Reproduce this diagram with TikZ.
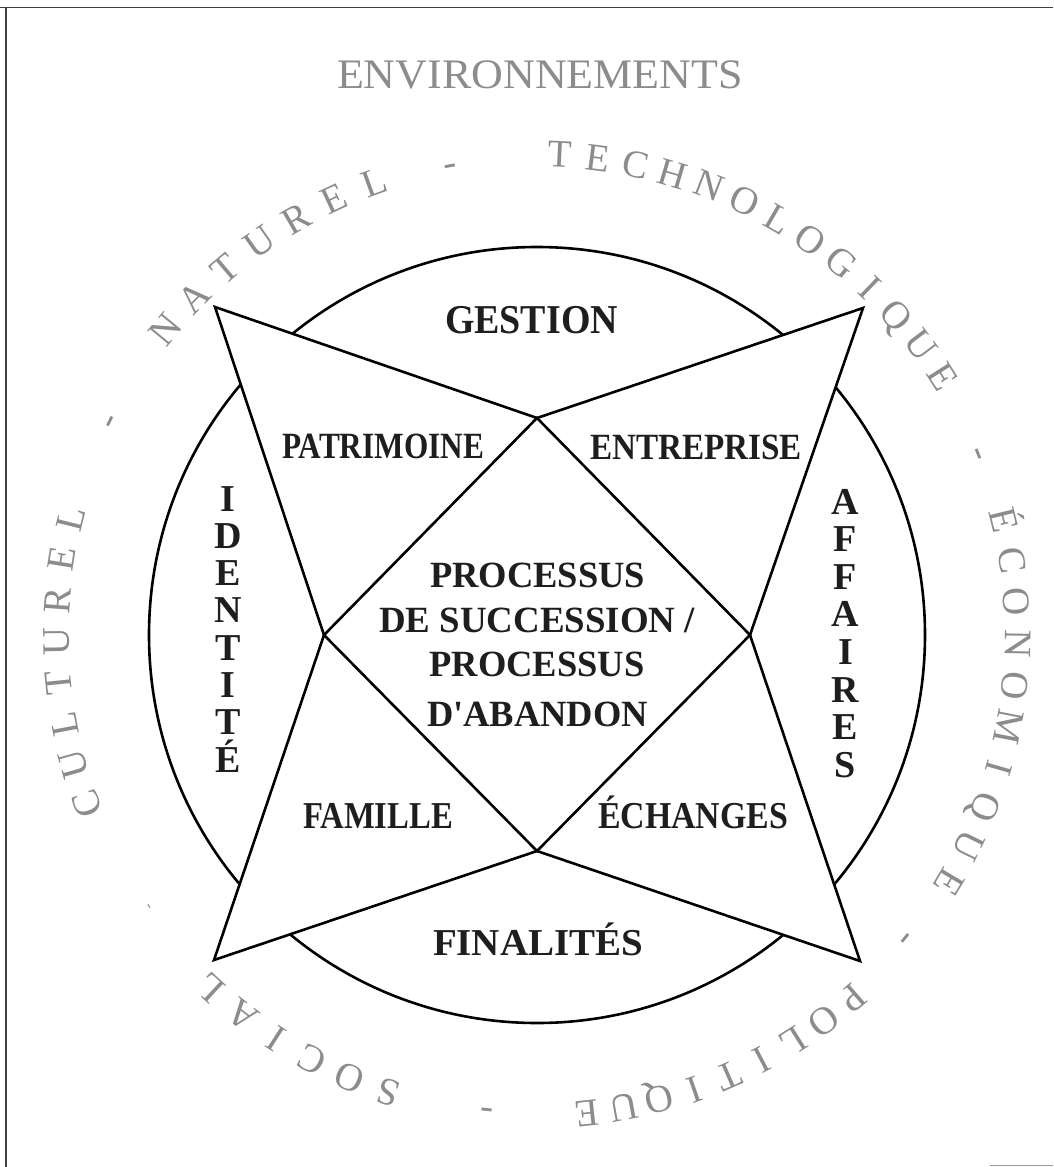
\documentclass[tikz,border=0pt]{standalone}
\usepackage{fontspec}
\setmainfont{Liberation Serif}[Ligatures=TeXOff]
\usepackage{graphicx}
\definecolor{ringgray}{RGB}{140,140,140}
\definecolor{ink}{RGB}{30,30,30}
\newsavebox\labbox
\newcommand\fitw[2]{\sbox\labbox{#2}\pgfmathsetmacro\labfac{#1/\the\wd\labbox}\scalebox{\labfac}[1]{\usebox\labbox}}
\begin{document}
\begin{tikzpicture}[x=1pt,y=1pt,
  lab/.style={inner sep=0pt, anchor=base, text=ink, font=\bfseries\fontsize{37}{37}\selectfont},
  biglab/.style={lab, font=\bfseries\fontsize{38}{38}\selectfont},
  ring/.style={inner sep=0pt, anchor=base, text=ringgray, font=\fontsize{39}{39}\selectfont},
  edge/.style={line width=2.6pt, line join=miter, draw=black}]
\useasboundingbox (0,0) rectangle (1053,-1167);
\fill[white] (0,0) rectangle (1053,-1167);
% frame
\coordinate (f1) at (0,-7.5);
\coordinate (f2) at (1053,-7.5);
\coordinate (f3) at (6,-7.5);
\coordinate (f4) at (6,-1167);
\coordinate (f5) at (990,-1165.5);
\coordinate (f6) at (1053,-1165.5);
\draw[line width=1.8pt, black!75] (f1) -- (f2);
\draw[line width=1.8pt, black!75] (f3) -- (f4);
\draw[line width=1.5pt, black!40] (f5) -- (f6);
% geometry
\coordinate (C) at (537,-635);
\coordinate (ul) at (215,-307);
\coordinate (t) at (537,-418);
\coordinate (ur) at (863,-308);
\coordinate (r) at (750,-635);
\coordinate (lr) at (860,-961);
\coordinate (b) at (537,-851);
\coordinate (ll) at (214,-960);
\coordinate (l) at (324,-635);
\draw[edge] (C) circle (388);
\draw[edge, fill=white] (ul) -- (t) -- (ur) -- (r) -- (lr) -- (b) -- (ll) -- (l) -- cycle;
\draw[edge] (t) -- (l) -- (b) -- (r) -- cycle;
% labels
\node[lab, font=\bfseries\fontsize{41}{41}\selectfont] (gestion) at (531.5,-333) {\fitw{173}{GESTION}};
\node[lab] (patrimoine) at (383,-458) {\fitw{202}{PATRIMOINE}};
\node[lab] (entreprise) at (696,-459) {\fitw{212}{ENTREPRISE}};
\node[lab] (proc1) at (537.5,-587) {\fitw{215}{PROCESSUS}};
\node[lab] (proc2) at (537,-632) {\fitw{316}{DE SUCCESSION /}};
\node[lab] (proc3) at (537,-676) {\fitw{215}{PROCESSUS}};
\node[lab] (proc4) at (537.5,-726) {\fitw{221}{D'ABANDON}};
\node[biglab] (famille) at (378,-828) {\fitw{150}{FAMILLE}};
\node[biglab] (echanges) at (693,-828) {\fitw{190}{ÉCHANGES}};
\node[biglab] (finalites) at (538,-955) {\fitw{210}{FINALITÉS}};
\foreach \ch [count=\i from 0] in {I,D,E,N,T,I,T,É}
  \node[biglab] (id\i) at (228,{-511-37.3*\i}) {\ch};
\foreach \ch [count=\i from 0] in {A,F,F,A,I,R,E,S}
  \node[biglab] (af\i) at (845.5,{-514-37.6*\i}) {\ch};
% environment title
\node[inner sep=0pt, anchor=base, text=ringgray, font=\fontsize{42}{42}\selectfont] (env) at (540,-88) {\fitw{406}{ENVIRONNEMENTS}};
% ring text
\newcommand\ringword[4]{%
  \foreach \ch [count=\k from 0] in {#3} {%
    \pgfmathsetmacro\ang{#1-#2*\k}%
    \path (C) ++(\ang:468) node[ring, rotate=\ang-90] (#4-\k) {\ch};
  }}
\ringword{140.6}{5.13}{N,A,T,U,R,E,L}{nat}
\ringword{87.3}{4.57}{T,E,C,H,N,O,L,O,G,I,Q,U,E}{tec}
\ringword{13.9}{4.99}{É,C,O,N,O,M,I,Q,U,E}{eco}
\ringword{-49}{4.375}{P,O,L,I,T,I,Q,U,E}{pol}
\ringword{-108}{4.96}{S,O,C,I,A,L}{soc}
\ringword{-159.5}{4.93}{C,U,L,T,U,R,E,L}{cul}
\ringword{100.5}{0}{-}{d1}
\ringword{22.3}{0}{-}{d2}
\ringword{-39.4}{0}{-}{d3}
\ringword{-96}{0}{-}{d4}
\ringword{153.4}{0}{-}{d6}
\path (C) ++(-145:470) node[ring, font=\fontsize{16}{16}\selectfont, rotate=-235] (d5) {-};
\end{tikzpicture}
\end{document}
